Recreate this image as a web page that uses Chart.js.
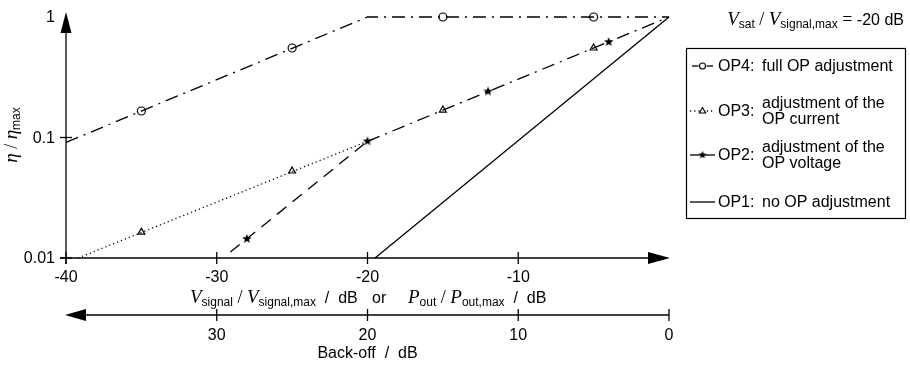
<!DOCTYPE html>
<html><head><meta charset="utf-8">
<script src="https://cdn.jsdelivr.net/npm/chart.js@4"></script>
<style>html,body{margin:0;padding:0;background:#fff}#wrap{width:910px;height:365px;position:relative}</style>
</head><body><div id="wrap"><canvas id="c"></canvas></div>
<script>
// ---- tick data ----
const xTickValues = [-40, -30, -20, -10];
const xTickLabels = ['-40', '-30', '-20', '-10'];
const backoffValues = [30, 20, 10, 0];
const backoffLabels = ['30', '20', '10', '0'];
const yTickValues = [1, 0.1, 0.01];
const yTickLabels = ['1', '0.1', '0.01'];

// ---- series data (x in dB, y = eta/eta_max) ----
const op4LineX = [-40, -20, 0];
const op4LineY = [0.091, 1, 1];
const op4MarkX = [-35, -25, -15, -5];
const op4MarkY = [0.166, 0.553, 1, 1];

const op3LineX = [-39.2, -20];
const op3LineY = [0.01, 0.093];
const op3MarkX = [-35, -25, -15, -5];
const op3MarkY = [0.0164, 0.0527, 0.169, 0.553];

const op2LineX = [-29.1, -20];
const op2LineY = [0.0112, 0.093];
const op2MarkX = [-28, -20, -12, -4];
const op2MarkY = [0.0144, 0.093, 0.241, 0.62];

const op23UpperX = [-20, 0];
const op23UpperY = [0.093, 1];

const op1LineX = [-19.5, 0];
const op1LineY = [0.01, 1];

// ---- legend text ----
const legendKeys = ['OP4:', 'OP3:', 'OP2:', 'OP1:'];
const legendTexts = [['full OP adjustment'], ['adjustment of the', 'OP current'], ['adjustment of the', 'OP voltage'], ['no OP adjustment']];

const SANS = '"Liberation Sans", Arial, Helvetica, sans-serif';
const SERIF = '"Liberation Serif", "Times New Roman", serif';
const F_TXT = '16px ' + SANS;
const F_SUB = '12px ' + SANS;
const F_IT = 'italic 19px ' + SERIF;
const F_SER = '18px ' + SERIF;
const LW = 1.3;

const pts = (xs, ys) => xs.map((x, i) => ({ x: x, y: ys[i] }));

function makeStar(size, r) {
  const c = document.createElement('canvas');
  c.width = c.height = size;
  const g = c.getContext('2d');
  g.beginPath();
  for (let i = 0; i < 10; i++) {
    const a = -Math.PI / 2 + i * Math.PI / 5;
    const rr = i % 2 ? r * 0.42 : r;
    g.lineTo(size / 2 + rr * Math.cos(a), size / 2 + rr * Math.sin(a));
  }
  g.closePath();
  g.fillStyle = '#000';
  g.fill();
  return c;
}
const starBig = makeStar(12, 5);
const starSmall = makeStar(10, 4.2);

const DASHDOT = [13, 6, 2, 6];

function lineDs(data, dash) {
  return { data: data, showLine: true, borderColor: '#000', borderWidth: LW, borderDash: dash, pointRadius: 0, fill: false, clip: false, borderCapStyle: 'butt' };
}
function markDs(data, style, r) {
  return { data: data, showLine: false, pointStyle: style, pointRadius: r, pointBorderColor: '#000', pointBackgroundColor: '#fff', pointBorderWidth: 1.2, clip: false };
}

function drawRich(ctx, parts, x, y, align) {
  let w = 0;
  parts.forEach(p => { ctx.font = p[1]; w += ctx.measureText(p[0]).width; });
  let cx = align === 'right' ? x - w : align === 'center' ? x - w / 2 : x;
  ctx.textAlign = 'left';
  ctx.textBaseline = 'alphabetic';
  parts.forEach(p => { ctx.font = p[1]; ctx.fillText(p[0], cx, y + (p[2] || 0)); cx += ctx.measureText(p[0]).width; });
}

function line(ctx, x1, y1, x2, y2, dash) {
  ctx.save();
  ctx.setLineDash(dash || []);
  ctx.beginPath(); ctx.moveTo(x1, y1); ctx.lineTo(x2, y2); ctx.stroke();
  ctx.restore();
}
function tri(ctx, p) {
  ctx.beginPath(); ctx.moveTo(p[0], p[1]); ctx.lineTo(p[2], p[3]); ctx.lineTo(p[4], p[5]); ctx.closePath(); ctx.fill();
}

const decor = {
  id: 'decor',
  afterDraw(chart) {
    const ctx = chart.ctx;
    const xs = chart.scales.x, ys = chart.scales.y;
    const x0 = xs.getPixelForValue(-40), xEnd = xs.getPixelForValue(0);
    const yBot = ys.getPixelForValue(0.01);
    ctx.save();
    ctx.strokeStyle = '#000'; ctx.fillStyle = '#000'; ctx.lineWidth = LW;

    // y axis with arrow
    line(ctx, x0, yBot + 6, x0, 30);
    tri(ctx, [x0, 12, x0 - 5.5, 33, x0 + 5.5, 33]);
    ctx.font = F_TXT; ctx.textAlign = 'right'; ctx.textBaseline = 'middle';
    yTickValues.forEach((v, i) => {
      const py = ys.getPixelForValue(v);
      if (v !== 1) line(ctx, x0 - 6, py, x0 + 6, py);
      ctx.fillText(yTickLabels[i], x0 - 11, py + 1);
    });

    // x axis with arrow
    line(ctx, x0 - 6, yBot, xEnd - 4, yBot);
    tri(ctx, [xEnd + 1, yBot, xEnd - 21, yBot - 6, xEnd - 21, yBot + 6]);
    ctx.textAlign = 'center';
    xTickValues.forEach((v, i) => {
      const px = xs.getPixelForValue(v);
      line(ctx, px, yBot - 6, px, yBot + 6);
      ctx.fillText(xTickLabels[i], px, yBot + 20);
    });

    // back-off axis
    const yB = 315;
    line(ctx, x0 + 4, yB, xEnd, yB);
    tri(ctx, [x0 - 1, yB, x0 + 20, yB - 6, x0 + 20, yB + 6]);
    ctx.font = F_TXT; ctx.textAlign = 'center'; ctx.textBaseline = 'middle';
    backoffValues.forEach((v, i) => {
      const px = xs.getPixelForValue(-v);
      line(ctx, px, yB - 6, px, yB + 6);
      ctx.fillText(backoffLabels[i], px, yB + 21);
    });
    ctx.fillText('Back-off  /  dB', xs.getPixelForValue(-20), yB + 39);

    // x title
    drawRich(ctx, [['V', F_IT], ['signal', F_SUB, 3], [' / ', F_SER], ['V', F_IT], ['signal,max', F_SUB, 3], ['  /  dB', F_TXT]], 190, 303, 'left');
    ctx.font = F_TXT; ctx.textAlign = 'left'; ctx.textBaseline = 'alphabetic';
    ctx.fillText('or', 372, 303);
    drawRich(ctx, [['P', F_IT], ['out', F_SUB, 3], [' / ', F_SER], ['P', F_IT], ['out,max', F_SUB, 3], ['  /  dB', F_TXT]], 408, 303, 'left');

    // y title (rotated)
    ctx.save();
    ctx.translate(17, 135);
    ctx.rotate(-Math.PI / 2);
    drawRich(ctx, [['\u03b7', F_IT], [' / ', F_SER], ['\u03b7', F_IT], ['max', F_SUB, 3]], 0, 0, 'center');
    ctx.restore();

    // annotation
    drawRich(ctx, [['V', F_IT], ['sat', F_SUB, 3], [' / ', F_SER], ['V', F_IT], ['signal,max', F_SUB, 3], [' = ', F_SER], ['-20 dB', F_TXT]], 904, 25, 'right');

    // legend box
    ctx.lineWidth = 1.2;
    ctx.strokeRect(686.5, 48.5, 219, 170);
    ctx.lineWidth = LW;
    const rows = [66, 111, 155, 202];
    const sx1 = 690, sx2 = 715, sm = 702.5;
    // OP4 sample
    line(ctx, sx1 + 2, rows[0], sm - 4, rows[0]);
    line(ctx, sm + 4, rows[0], sx2 - 2, rows[0]);
    ctx.save(); ctx.lineWidth = 1.1; ctx.fillStyle = '#fff';
    ctx.beginPath(); ctx.arc(sm, rows[0], 3, 0, Math.PI * 2); ctx.fill(); ctx.stroke(); ctx.restore();
    // OP3 sample
    line(ctx, sx1, rows[1], sx2, rows[1], [1.2, 3]);
    ctx.save(); ctx.lineWidth = 1.1; ctx.fillStyle = '#fff';
    ctx.beginPath(); ctx.moveTo(sm, rows[1] - 3.5); ctx.lineTo(sm + 3.2, rows[1] + 2); ctx.lineTo(sm - 3.2, rows[1] + 2); ctx.closePath(); ctx.fill(); ctx.stroke(); ctx.restore();
    // OP2 sample
    line(ctx, sx1, rows[2], sx2, rows[2]);
    ctx.drawImage(starSmall, sm - 5, rows[2] - 5);
    // OP1 sample
    line(ctx, sx1, rows[3], sx2, rows[3]);

    ctx.font = F_TXT; ctx.textAlign = 'left'; ctx.textBaseline = 'middle'; ctx.fillStyle = '#000';
    rows.forEach((ry, i) => {
      ctx.fillText(legendKeys[i], 718, ry + 1);
      const t = legendTexts[i];
      if (t.length === 1) ctx.fillText(t[0], 762, ry + 1);
      else { ctx.fillText(t[0], 762, ry - 7); ctx.fillText(t[1], 762, ry + 9); }
    });
    ctx.restore();
  }
};

new Chart(document.getElementById('c'), {
  type: 'scatter',
  data: {
    datasets: [
      lineDs(pts(op4LineX, op4LineY), DASHDOT),
      lineDs(pts(op3LineX, op3LineY), [1.2, 3]),
      lineDs(pts(op2LineX, op2LineY), [12, 8]),
      lineDs(pts(op23UpperX, op23UpperY), DASHDOT),
      lineDs(pts(op1LineX, op1LineY), []),
      markDs(pts(op4MarkX, op4MarkY), 'circle', 4),
      markDs(pts(op3MarkX, op3MarkY), 'triangle', 4),
      markDs(pts(op2MarkX, op2MarkY), starBig, 5)
    ]
  },
  options: {
    responsive: true,
    maintainAspectRatio: false,
    animation: false,
    layout: { padding: { left: 66, right: 241, top: 17, bottom: 107 } },
    plugins: { legend: { display: false }, tooltip: { enabled: false } },
    scales: {
      x: { type: 'linear', min: -40, max: 0, display: false },
      y: { type: 'logarithmic', min: 0.01, max: 1, display: false }
    }
  },
  plugins: [decor]
});
</script>
</body></html>
